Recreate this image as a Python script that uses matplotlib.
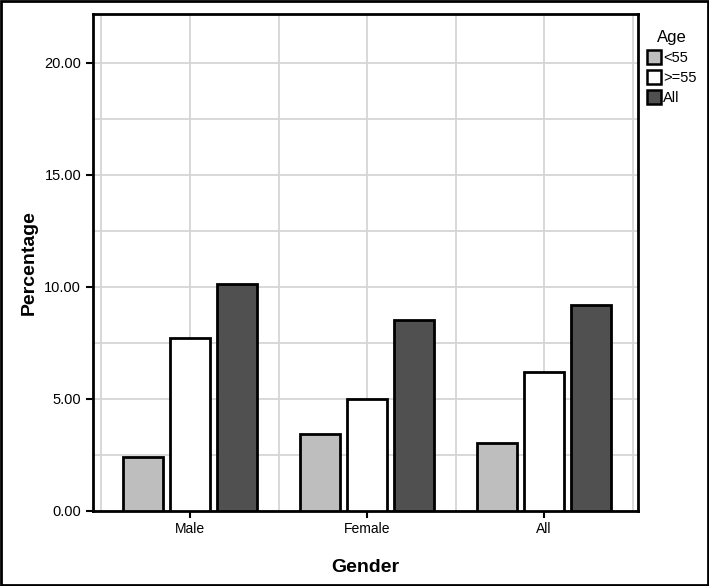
import numpy as np
import matplotlib.pyplot as plt
from matplotlib.patches import Rectangle

plt.rcParams['font.family'] = ['Liberation Sans', 'DejaVu Sans']

genders = ['Male', 'Female', 'All']
age_groups = ['<55', '>=55', 'All']
pct_lt55 = [2.4, 3.4, 3.0]
pct_ge55 = [7.7, 5.0, 6.2]
pct_all = [10.1, 8.5, 9.2]
yticks = [0, 5, 10, 15, 20]

fig = plt.figure(figsize=(7.09, 5.86), dpi=100)
ax = fig.add_axes([93 / 709, 1 - 510.5 / 586, (638 - 93) / 709, (510.5 - 14) / 586])

x = np.arange(len(genders))
w = 0.226
off = 0.264
cols = ['#bebebe', 'white', '#505050']
for i, (vals, c, lab) in enumerate(zip([pct_lt55, pct_ge55, pct_all], cols, age_groups)):
    ax.bar(x + (i - 1) * off, vals, width=w, color=c, edgecolor='black',
           linewidth=2, label=lab, zorder=3)

ax.set_xlim(-0.548, 2.53)
ax.set_ylim(0, 22.18)
ax.set_xticks(x)
ax.set_xticklabels(genders, fontsize=10)
ax.set_yticks(yticks)
ax.set_yticklabels(['%.2f' % v for v in yticks], fontsize=10.5)
ax.set_xticks(np.arange(-0.5, 2.6, 0.5), minor=True)
ax.set_yticks(np.arange(2.5, 22.1, 2.5), minor=True)
ax.tick_params(axis='both', which='minor', length=0)
ax.tick_params(axis='both', which='major', length=5, width=1.5, color='black')
ax.grid(which='both', color='#d2d2d2', linewidth=1.2, zorder=0)
for s in ax.spines.values():
    s.set_linewidth(2)
    s.set_color('black')
ax.set_axisbelow(True)

ax.set_xlabel('Gender', fontsize=14, fontweight='bold', labelpad=16)
ax.set_ylabel('Percentage', fontsize=14, fontweight='bold', labelpad=5)

leg = ax.legend(title='Age', loc='upper left', bbox_to_anchor=(1.0, 0.985),
                frameon=False, fontsize=10.5, title_fontsize=12,
                handlelength=0.95, handleheight=1.05, handletextpad=0.15,
                labelspacing=0.35, borderaxespad=0.2)
for h in leg.legend_handles:
    h.set_linewidth(1.8)

fig.patches.append(Rectangle((0.0015, 0.0015), 0.997, 0.997, transform=fig.transFigure,
                             fill=False, edgecolor='black', linewidth=2))

fig.savefig('out.png', dpi=100)
